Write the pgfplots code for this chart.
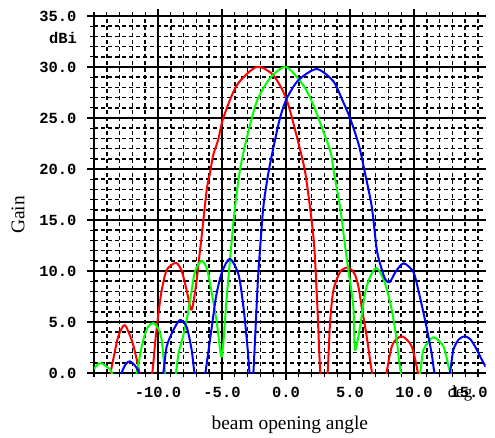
\documentclass[border=0pt]{standalone}
\usepackage{fontspec}
\setmainfont{Liberation Serif}
\newfontfamily\monofont{Liberation Mono}
\usepackage{pgfplots}
\pgfplotsset{compat=1.18}
\newcommand{\tickfont}{\monofont\bfseries\fontsize{15.5}{15.5}\selectfont}
\begin{document}
\begin{tikzpicture}
\begin{axis}[
  scale only axis, width=391.7bp, height=357bp,
  xmin=-15, xmax=15.6, ymin=0, ymax=35,
  axis x line=box, axis y line=left,
  every outer x axis line/.append style={-},
  every outer y axis line/.append style={-},
  axis line style={line width=1.8bp, black},
  xtick={-10,-5,0,5,10}, xticklabels={-10.0,-5.0,0.0,5.0,10.0},
  extra x ticks={15}, extra x tick labels={15.0},
  extra x tick style={grid=none, major tick length=4bp, xticklabel style={xshift=-9bp, yshift=-3bp}},
  ytick={0,5,10,15,20,25,30,35},
  yticklabels={0.0,5.0,10.0,15.0,20.0,25.0,30.0,35.0},
  minor xtick={-15,-14,...,15},
  minor ytick={0,1,...,35},
  grid=both,
  major grid style={black, line width=1.6bp},
  minor grid style={black, line width=1.6bp, dash pattern=on 4bp off 3bp},
  tick align=outside, major tick length=7bp, minor tick length=4bp,
  every tick/.style={black, line width=1.3bp},
  ticklabel style={font=\tickfont},
  xticklabel style={yshift=-4bp},
  yticklabel style={xshift=-7bp},
  xlabel={beam opening angle}, ylabel={Gain},
  xlabel style={font=\fontsize{19.5}{19.5}\selectfont, at={(axis description cs:0.5,-0.146)}, anchor=center},
  ylabel style={font=\fontsize{19.5}{19.5}\selectfont, at={(axis description cs:-0.194,0.443)}, anchor=center},
  clip mode=individual,
  every axis plot/.append style={line width=2bp, line join=round, smooth, tension=0.45},
]
% red
\addplot[red] coordinates {
(-14.0,-3)(-13.7,0)(-13.5,1.3)(-13.1,3.6)(-12.6,4.7)(-12.05,3.2)(-11.75,1.8)(-11.45,0)(-11.0,-4)
(-10.45,0)(-10.23,2.9)(-9.97,5.8)(-9.71,8.1)(-9.32,10.1)(-8.6,10.8)(-8.15,10.0)(-7.76,8.1)(-7.37,6.2)
(-6.98,9.1)(-6.72,12.0)(-6.59,13.4)(-6.2,17.9)(-5.94,19.6)(-5.68,21.4)(-5.29,22.9)(-4.9,25.0)
(-3.85,28.2)(-2.3,30.0)(-1.0,29.2)(0.05,26.8)(1.0,22.4)(1.48,19.8)(1.87,16.3)(2.2,12.5)(2.45,6.5)(2.68,0)
(3.0,-3)(3.25,0)(3.44,4.9)(3.7,8.1)(4.22,9.9)(4.79,10.35)(5.13,10.1)(5.4,9.6)(5.65,8.5)(5.91,6.5)(6.3,3.6)(6.72,0)
(7.3,-4)(7.85,0)(8.26,2.6)(8.7,3.4)(9.15,3.56)(9.82,2.6)(10.3,0)(10.6,-3)
};
% green
\addplot[color={rgb,255:red,0;green,255;blue,0}] coordinates {
(-15,0.4)(-14.7,0.85)(-14.4,0.95)(-14.0,0.6)(-13.6,0)(-13.0,-3)(-12.2,-3)(-11.67,0)(-11.2,3.0)(-10.8,4.5)(-10.36,4.9)
(-10.0,4.4)(-9.71,3.2)(-9.45,0)(-9.1,-3)(-8.6,0)(-8.4,1.9)(-8.0,3.8)(-7.7,5.6)(-7.37,8.1)(-7.1,10.0)(-6.6,11.0)
(-6.2,10.3)(-5.94,8.8)(-5.4,4.9)(-5.02,1.6)(-4.64,7.3)(-4.24,13.0)(-3.98,16.3)(-3.6,19.9)(-3.07,23.0)(-2.29,26.6)
(-1.25,28.9)(0.0,30.0)(1.35,28.2)(2.13,26.3)(2.91,23.7)(3.5,21.6)(3.75,19.6)(4.22,16.3)(4.61,12.5)(4.87,10.1)
(5.26,6.5)(5.39,2.25)(5.78,4.5)(6.17,7.8)(6.56,9.4)(7.09,10.3)(7.73,8.8)(8.26,6.2)(8.65,3.2)(8.98,0)(9.7,-3)
(10.47,0)(10.73,2.25)(11.5,3.5)(12.3,2.6)(12.73,0.45)(12.85,0)(13.2,-3)
};
% blue
\addplot[blue] coordinates {
(-13.2,-2)(-12.84,0)(-12.5,0.9)(-12.2,1.15)(-11.85,0.8)(-11.5,0)(-11.0,-3)
(-9.9,-3)(-9.58,0)(-9.32,2.6)(-8.8,4.2)(-8.28,5.2)(-7.76,4.5)(-7.37,2.25)(-7.15,0)(-6.7,-3)
(-6.3,0)(-5.8,4.5)(-5.45,7.6)(-5.0,9.9)(-4.38,11.2)(-3.7,9.6)(-3.3,6.2)(-3.0,2.4)(-2.85,0)(-2.7,-2)
(-2.55,0)(-2.2,9)(-2.03,12.1)(-1.77,16.3)(-1.38,19.6)(-0.9,22.6)(-0.47,25.0)(0.05,26.9)(0.96,28.7)(2.4,29.8)
(3.7,28.6)(4.35,26.9)(5.0,25.0)(5.7,22.3)(6.17,19.6)(6.7,16.3)(7.09,12.1)(7.4,10.5)(7.75,9.2)(8.1,8.9)
(8.6,10.0)(9.2,10.75)(9.95,9.9)(10.34,8.1)(10.86,5.2)(11.38,1.9)(11.6,0)(12.2,-3)
(12.8,0)(13.07,2.25)(13.5,3.3)(13.98,3.6)(14.4,3.3)(14.77,2.6)(15.3,1.3)(15.6,0.6)
};
\end{axis}
\node[font=\tickfont, anchor=east, inner sep=0pt] at (-17bp,335bp) {dBi};
\node[font=\fontsize{17}{17}\selectfont, anchor=center, inner sep=0pt] at (366bp,-20bp) {deg};
\pgfresetboundingbox
\path[use as bounding box] (-94bp,-65bp) rectangle (401bp,373bp);
\end{tikzpicture}
\end{document}
